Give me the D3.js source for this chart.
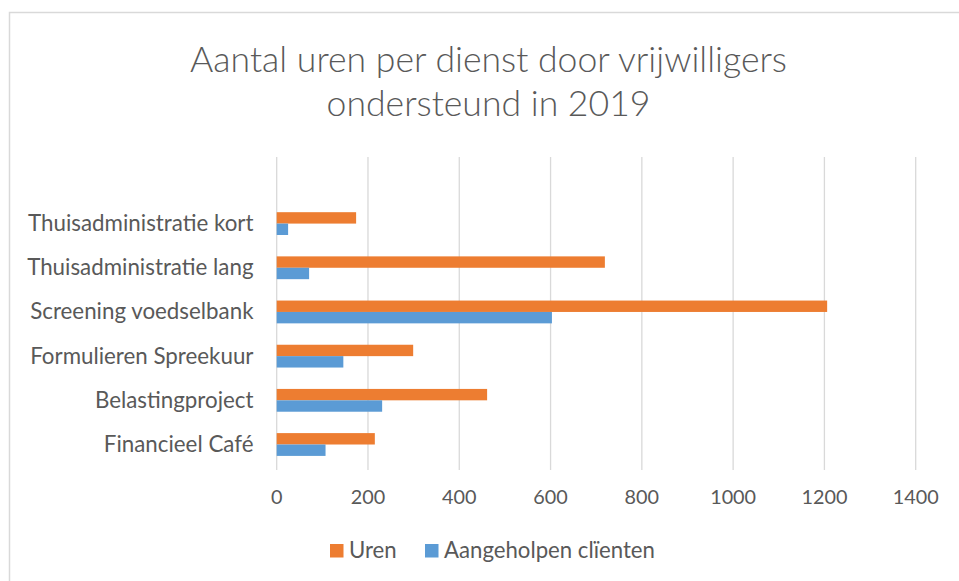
<!DOCTYPE html>
<html>
<head>
<meta charset="utf-8">
<script src="https://cdn.jsdelivr.net/npm/d3@7"></script>
<style>
  body { margin: 0; background: #fff; }
  text { font-family: Lato, "Noto Sans", sans-serif; fill: #595959; }
</style>
</head>
<body>
<script>
// data
const categories = ['Thuisadministratie kort', 'Thuisadministratie lang', 'Screening voedselbank',
                    'Formulieren Spreekuur', 'Belastingproject', 'Financieel Café'];
const uren = [174, 719, 1206, 299, 461, 215];
const clienten = [25, 71, 603, 146, 231, 107];
const seriesNames = ['Uren', 'Aangeholpen clïenten'];
const seriesColors = ['#ED7D31', '#5B9BD5'];
const xTicks = [0, 200, 400, 600, 800, 1000, 1200, 1400];
const titleLines = ['Aantal uren per dienst door vrijwilligers', 'ondersteund in 2019'];

const W = 959, H = 581;
const svg = d3.select('body').append('svg').attr('width', W).attr('height', H);

// chart border (only top and left visible in the crop)
svg.append('rect').attr('x', 9.5).attr('y', 12.5).attr('width', W + 10).attr('height', H + 10)
  .attr('fill', 'none').attr('stroke', '#D9D9D9').attr('stroke-width', 1.5);

const x = d3.scaleLinear().domain([0, 1400]).range([276.7, 915.7]);
const y = d3.scaleBand().domain(categories).range([201.5, 466.6]);
const barH = y.bandwidth() * 0.258;

// shrink/grow font so text width matches the reference
function fit(sel, target) {
  const w = sel.node().getComputedTextLength();
  const fs = parseFloat(sel.attr('font-size'));
  sel.attr('font-size', fs * target / w);
  return fs * target / w;
}

// gridlines
svg.append('g').selectAll('line').data(xTicks).join('line')
  .attr('x1', d => x(d)).attr('x2', d => x(d))
  .attr('y1', 157).attr('y2', 470)
  .attr('stroke', '#D9D9D9').attr('stroke-width', 1.3);

// tick labels
const tickG = svg.append('g');
const tickTexts = tickG.selectAll('text').data(xTicks).join('text')
  .attr('x', d => x(d)).attr('y', 504)
  .attr('text-anchor', 'middle').attr('font-size', 20)
  .text(d => d);
const tfs = fit(tickTexts.filter(d => d === 1400), 46);
tickTexts.attr('font-size', tfs);

// bars
const rows = categories.map((c, i) => ({ c, vals: [uren[i], clienten[i]] }));
const g = svg.append('g');
rows.forEach(r => {
  r.vals.forEach((v, k) => {
    g.append('rect')
      .attr('x', x(0))
      .attr('y', y(r.c) + y.bandwidth() / 2 - barH + k * barH)
      .attr('width', x(v) - x(0))
      .attr('height', barH)
      .attr('fill', seriesColors[k]);
  });
});

// category labels
const catTexts = svg.append('g').selectAll('text').data(categories).join('text')
  .attr('x', 253.5).attr('y', d => y(d) + y.bandwidth() / 2 + 7.5)
  .attr('text-anchor', 'end').attr('font-size', 22)
  .text(d => d);
const cfs = fit(catTexts.filter((d, i) => i === 0), 225.6);
catTexts.attr('font-size', cfs);

// title
const t1 = svg.append('text').attr('x', 488.5).attr('y', 72).attr('text-anchor', 'middle')
  .attr('font-size', 32).attr('font-weight', 300).text(titleLines[0]);
const tf = fit(t1, 597);
svg.append('text').attr('x', 488.5).attr('y', 116).attr('text-anchor', 'middle')
  .attr('font-size', tf).attr('font-weight', 300).text(titleLines[1]);

// legend
const legX = [330, 425];
seriesNames.forEach((s, k) => {
  svg.append('rect').attr('x', legX[k]).attr('y', 544).attr('width', 13.5).attr('height', 13.5)
    .attr('fill', seriesColors[k]);
});
const lt = svg.append('g').selectAll('text').data(seriesNames).join('text')
  .attr('x', (d, k) => legX[k] + 19).attr('y', 557.5).attr('font-size', 20)
  .text(d => d);
const lfs = fit(lt.filter((d, k) => k === 1), 211);
lt.attr('font-size', lfs);
</script>
</body>
</html>
